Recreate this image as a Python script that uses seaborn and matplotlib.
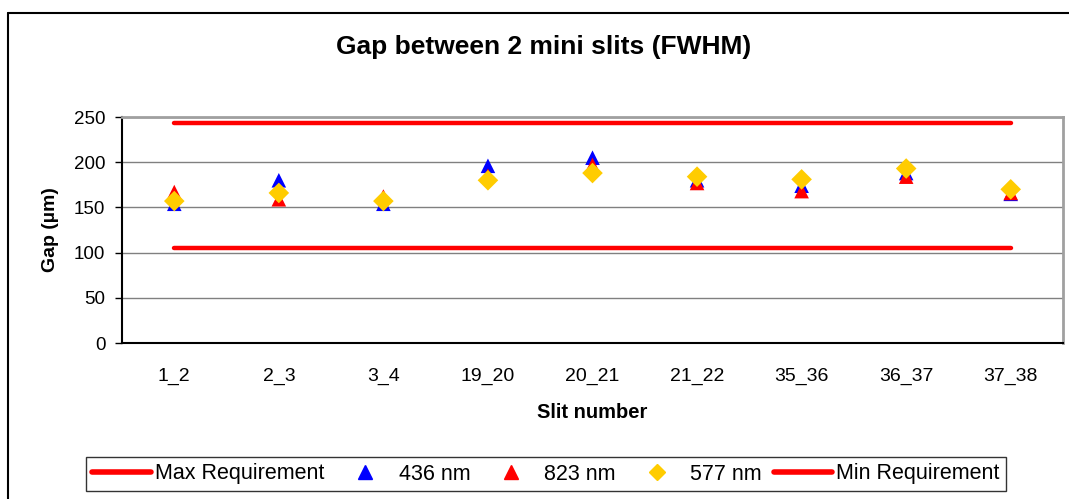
import numpy as np
import pandas as pd
import matplotlib
matplotlib.use("Agg")
import matplotlib.pyplot as plt
from matplotlib.lines import Line2D
import seaborn as sns

categories = ["1_2", "2_3", "3_4", "19_20", "20_21", "21_22", "35_36", "36_37", "37_38"]
nm436 = [154, 180, 154, 196, 205, 180, 174, 188, 165]
nm823 = [167, 159, 162, 185, 197, 177, 168, 184, 166]
nm577 = [157, 166, 157, 180, 188, 184, 181, 193, 170]
max_req = [243] * len(categories)
min_req = [105] * len(categories)

sns.set_style("white")
plt.rcParams['font.family'] = ['Liberation Sans', 'DejaVu Sans']
plt.rcParams['text.color'] = 'black'
plt.rcParams['axes.labelcolor'] = 'black'
plt.rcParams['xtick.color'] = 'black'
plt.rcParams['ytick.color'] = 'black'

W, H = 1069, 499
fig = plt.figure(figsize=(W / 100, H / 100), dpi=100)
ax = fig.add_axes([122 / W, (H - 343) / H, (1063 - 122) / W, (343 - 117) / H])

x = np.arange(len(categories))
df_pts = pd.DataFrame({
    "x": np.concatenate([x, x, x]),
    "Gap": nm436 + nm823 + nm577,
    "series": ["436 nm"] * 9 + ["823 nm"] * 9 + ["577 nm"] * 9,
})
df_req = pd.DataFrame({
    "x": np.concatenate([x, x]),
    "Gap": max_req + min_req,
    "series": ["Max Requirement"] * 9 + ["Min Requirement"] * 9,
})

sns.lineplot(data=df_req, x="x", y="Gap", hue="series",
             palette={"Max Requirement": "#FF0000", "Min Requirement": "#FF0000"},
             linewidth=3.2, ax=ax, legend=False, solid_capstyle="round", zorder=2)
sns.scatterplot(data=df_pts, x="x", y="Gap", hue="series", style="series",
                palette={"436 nm": "#0000FF", "823 nm": "#FF0000", "577 nm": "#FFCC00"},
                markers={"436 nm": "^", "823 nm": "^", "577 nm": "D"},
                s=110, edgecolor="none", ax=ax, legend=False, zorder=3)

ax.set_xlim(-0.5, len(categories) - 0.5)
ax.set_ylim(0, 250)
ax.set_yticks([0, 50, 100, 150, 200, 250])
ax.yaxis.grid(True, color="#808080", linewidth=1)
ax.set_axisbelow(True)
ax.set_xticks(x)
ax.set_xticklabels(categories, fontsize=14)
ax.tick_params(axis="x", length=0, pad=18)
ax.set_xticks(np.arange(-0.5, len(categories)), minor=True)
ax.tick_params(axis="x", which="minor", length=6, width=1, color="black", direction="out")
ax.tick_params(axis="y", labelsize=13.5, length=5, width=1, color="black", direction="out",
               left=True, pad=7)
for s in ["left", "bottom"]:
    ax.spines[s].set_color("black")
    ax.spines[s].set_linewidth(1.5)
for s in ["top", "right"]:
    ax.spines[s].set_color("#A0A0A0")
    ax.spines[s].set_linewidth(2)

ax.set_xlabel("Slit number", fontsize=14.5, fontweight="bold", labelpad=13)
ax.set_ylabel("Gap (µm)", fontsize=14, fontweight="bold", labelpad=11)
fig.text(0.509, 1 - 47 / H, "Gap between 2 mini slits (FWHM)", ha="center", va="center",
         fontsize=19, fontweight="bold")

handles = [
    Line2D([], [], color="#FF0000", lw=4),
    Line2D([], [], marker="^", color="#0000FF", ls="none", markersize=10),
    Line2D([], [], marker="^", color="#FF0000", ls="none", markersize=10),
    Line2D([], [], marker="D", color="#FFCC00", ls="none", markersize=8),
    Line2D([], [], color="#FF0000", lw=4),
]
labels = ["Max Requirement", "436 nm", "823 nm", "577 nm", "Min Requirement"]
leg = fig.legend(handles, labels, loc="center", bbox_to_anchor=(546 / W, 1 - 474 / H), ncol=5,
                 fontsize=15.5, frameon=True, fancybox=False, edgecolor="black",
                 handlelength=2.7, handletextpad=0.2, columnspacing=0.55,
                 borderpad=0.3, borderaxespad=0)
leg.get_frame().set_linewidth(1)

# outer chart frame (left and top edges visible)
fig.add_artist(Line2D([7.5 / W, 7.5 / W], [0, 1 - 13 / H], color="black", lw=1.5,
                      transform=fig.transFigure))
fig.add_artist(Line2D([7.5 / W, 1], [1 - 13 / H, 1 - 13 / H], color="black", lw=1.5,
                      transform=fig.transFigure))

fig.savefig("out.png", dpi=100)
